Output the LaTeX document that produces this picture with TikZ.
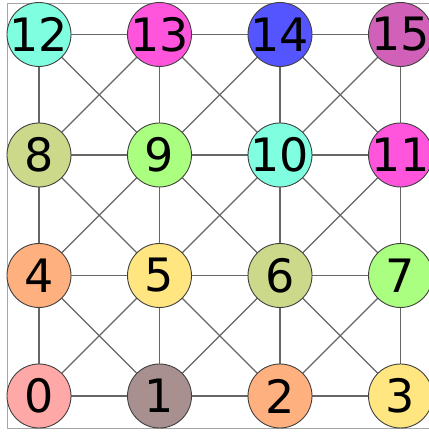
\documentclass[tikz,border=0pt]{standalone}
\usepackage{fontspec}
\setmainfont{DejaVu Sans}
\usepackage{xcolor}
\usetikzlibrary{positioning, backgrounds}
\definecolor{rose}{HTML}{FFA8A8}
\definecolor{taupe}{HTML}{A89090}
\definecolor{peach}{HTML}{FFB07F}
\definecolor{butter}{HTML}{FFE680}
\definecolor{olive}{HTML}{CCD98A}
\definecolor{lime}{HTML}{AAFF80}
\definecolor{aqua}{HTML}{80FFE0}
\definecolor{magenta}{HTML}{FF55DD}
\definecolor{royal}{HTML}{5555FF}
\definecolor{orchid}{HTML}{D060B8}
\tikzset{
  vertex/.style={circle, draw=black!75, line width=0.9pt, minimum size=64pt,
                 inner sep=-5pt, outer sep=0pt, font=\fontsize{46}{46}\selectfont},
  edge/.style={draw=black!60, line width=1.3pt},
  frame/.style={draw=black!35, line width=0.9pt},
}

\begin{document}
\begin{tikzpicture}[x=1pt, y=1pt, node distance=56.5pt and 56.5pt]
  \useasboundingbox (0,0) rectangle (428,433);

  % Row 0
  \node[vertex, fill=rose] (n0) at (39,37) {0};
  \node[vertex, fill=taupe, right=of n0] (n1) {1};
  \node[vertex, fill=peach, right=of n1] (n2) {2};
  \node[vertex, fill=butter, right=of n2] (n3) {3};

  % Row 1
  \node[vertex, fill=peach, above=of n0] (n4) {4};
  \node[vertex, fill=butter, right=of n4] (n5) {5};
  \node[vertex, fill=olive, right=of n5] (n6) {6};
  \node[vertex, fill=lime, right=of n6] (n7) {7};

  % Row 2
  \node[vertex, fill=olive, above=of n4] (n8) {8};
  \node[vertex, fill=lime, right=of n8] (n9) {9};
  \node[vertex, fill=aqua, right=of n9] (n10) {10};
  \node[vertex, fill=magenta, right=of n10] (n11) {11};

  % Row 3
  \node[vertex, fill=aqua, above=of n8] (n12) {12};
  \node[vertex, fill=magenta, right=of n12] (n13) {13};
  \node[vertex, fill=royal, right=of n13] (n14) {14};
  \node[vertex, fill=orchid, right=of n14] (n15) {15};

  \begin{scope}[on background layer]
    % Frame
    \draw[frame] (7,5) rectangle (433,430);

    % Horizontal edges
    \draw[edge] (n0) -- (n1);
    \draw[edge] (n1) -- (n2);
    \draw[edge] (n2) -- (n3);
    \draw[edge] (n4) -- (n5);
    \draw[edge] (n5) -- (n6);
    \draw[edge] (n6) -- (n7);
    \draw[edge] (n8) -- (n9);
    \draw[edge] (n9) -- (n10);
    \draw[edge] (n10) -- (n11);
    \draw[edge] (n12) -- (n13);
    \draw[edge] (n13) -- (n14);
    \draw[edge] (n14) -- (n15);

    % Vertical edges
    \draw[edge] (n0) -- (n4);
    \draw[edge] (n4) -- (n8);
    \draw[edge] (n8) -- (n12);
    \draw[edge] (n1) -- (n5);
    \draw[edge] (n5) -- (n9);
    \draw[edge] (n9) -- (n13);
    \draw[edge] (n2) -- (n6);
    \draw[edge] (n6) -- (n10);
    \draw[edge] (n10) -- (n14);
    \draw[edge] (n3) -- (n7);
    \draw[edge] (n7) -- (n11);
    \draw[edge] (n11) -- (n15);

    % Diagonal edges
    \draw[edge] (n0) -- (n5);
    \draw[edge] (n1) -- (n4);
    \draw[edge] (n1) -- (n6);
    \draw[edge] (n2) -- (n5);
    \draw[edge] (n2) -- (n7);
    \draw[edge] (n3) -- (n6);
    \draw[edge] (n4) -- (n9);
    \draw[edge] (n5) -- (n8);
    \draw[edge] (n5) -- (n10);
    \draw[edge] (n6) -- (n9);
    \draw[edge] (n6) -- (n11);
    \draw[edge] (n7) -- (n10);
    \draw[edge] (n8) -- (n13);
    \draw[edge] (n9) -- (n12);
    \draw[edge] (n9) -- (n14);
    \draw[edge] (n10) -- (n13);
    \draw[edge] (n10) -- (n15);
    \draw[edge] (n11) -- (n14);
  \end{scope}

\end{tikzpicture}
\end{document}
